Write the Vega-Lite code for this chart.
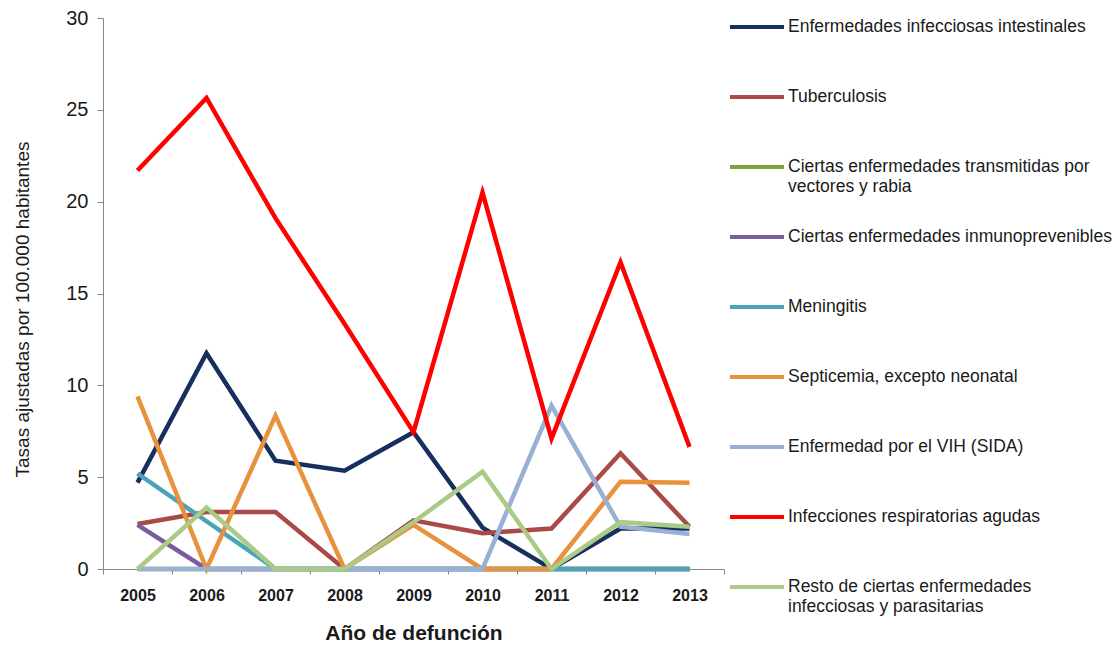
{
  "$schema": "https://vega.github.io/schema/vega-lite/v6.json",
  "width": 621,
  "height": 551,
  "autosize": "none",
  "padding": {"left": 103, "top": 18, "right": 393, "bottom": 77},
  "background": "white",
  "config": {"view": {"stroke": null}, "font": "Liberation Sans"},
  "data": {"values": [
    {"serie": "Enfermedades infecciosas intestinales", "anio": "2005", "tasa": 4.7},
    {"serie": "Enfermedades infecciosas intestinales", "anio": "2006", "tasa": 11.75},
    {"serie": "Enfermedades infecciosas intestinales", "anio": "2007", "tasa": 5.9},
    {"serie": "Enfermedades infecciosas intestinales", "anio": "2008", "tasa": 5.35},
    {"serie": "Enfermedades infecciosas intestinales", "anio": "2009", "tasa": 7.45},
    {"serie": "Enfermedades infecciosas intestinales", "anio": "2010", "tasa": 2.25},
    {"serie": "Enfermedades infecciosas intestinales", "anio": "2011", "tasa": 0},
    {"serie": "Enfermedades infecciosas intestinales", "anio": "2012", "tasa": 2.2},
    {"serie": "Enfermedades infecciosas intestinales", "anio": "2013", "tasa": 2.2},
    {"serie": "Tuberculosis", "anio": "2005", "tasa": 2.45},
    {"serie": "Tuberculosis", "anio": "2006", "tasa": 3.1},
    {"serie": "Tuberculosis", "anio": "2007", "tasa": 3.1},
    {"serie": "Tuberculosis", "anio": "2008", "tasa": 0},
    {"serie": "Tuberculosis", "anio": "2009", "tasa": 2.65},
    {"serie": "Tuberculosis", "anio": "2010", "tasa": 1.95},
    {"serie": "Tuberculosis", "anio": "2011", "tasa": 2.2},
    {"serie": "Tuberculosis", "anio": "2012", "tasa": 6.3},
    {"serie": "Tuberculosis", "anio": "2013", "tasa": 2.3},
    {"serie": "Ciertas enfermedades transmitidas por vectores y rabia", "anio": "2005", "tasa": 0},
    {"serie": "Ciertas enfermedades transmitidas por vectores y rabia", "anio": "2006", "tasa": 0},
    {"serie": "Ciertas enfermedades transmitidas por vectores y rabia", "anio": "2007", "tasa": 0},
    {"serie": "Ciertas enfermedades transmitidas por vectores y rabia", "anio": "2008", "tasa": 0},
    {"serie": "Ciertas enfermedades transmitidas por vectores y rabia", "anio": "2009", "tasa": 0},
    {"serie": "Ciertas enfermedades transmitidas por vectores y rabia", "anio": "2010", "tasa": 0},
    {"serie": "Ciertas enfermedades transmitidas por vectores y rabia", "anio": "2011", "tasa": 0},
    {"serie": "Ciertas enfermedades transmitidas por vectores y rabia", "anio": "2012", "tasa": 0},
    {"serie": "Ciertas enfermedades transmitidas por vectores y rabia", "anio": "2013", "tasa": 0},
    {"serie": "Ciertas enfermedades inmunoprevenibles", "anio": "2005", "tasa": 2.4},
    {"serie": "Ciertas enfermedades inmunoprevenibles", "anio": "2006", "tasa": 0},
    {"serie": "Ciertas enfermedades inmunoprevenibles", "anio": "2007", "tasa": 0},
    {"serie": "Ciertas enfermedades inmunoprevenibles", "anio": "2008", "tasa": 0},
    {"serie": "Ciertas enfermedades inmunoprevenibles", "anio": "2009", "tasa": 0},
    {"serie": "Ciertas enfermedades inmunoprevenibles", "anio": "2010", "tasa": 0},
    {"serie": "Ciertas enfermedades inmunoprevenibles", "anio": "2011", "tasa": 0},
    {"serie": "Ciertas enfermedades inmunoprevenibles", "anio": "2012", "tasa": 0},
    {"serie": "Ciertas enfermedades inmunoprevenibles", "anio": "2013", "tasa": 0},
    {"serie": "Meningitis", "anio": "2005", "tasa": 5.2},
    {"serie": "Meningitis", "anio": "2006", "tasa": 2.6},
    {"serie": "Meningitis", "anio": "2007", "tasa": 0},
    {"serie": "Meningitis", "anio": "2008", "tasa": 0},
    {"serie": "Meningitis", "anio": "2009", "tasa": 0},
    {"serie": "Meningitis", "anio": "2010", "tasa": 0},
    {"serie": "Meningitis", "anio": "2011", "tasa": 0},
    {"serie": "Meningitis", "anio": "2012", "tasa": 0},
    {"serie": "Meningitis", "anio": "2013", "tasa": 0},
    {"serie": "Septicemia, excepto neonatal", "anio": "2005", "tasa": 9.4},
    {"serie": "Septicemia, excepto neonatal", "anio": "2006", "tasa": 0},
    {"serie": "Septicemia, excepto neonatal", "anio": "2007", "tasa": 8.35},
    {"serie": "Septicemia, excepto neonatal", "anio": "2008", "tasa": 0},
    {"serie": "Septicemia, excepto neonatal", "anio": "2009", "tasa": 2.4},
    {"serie": "Septicemia, excepto neonatal", "anio": "2010", "tasa": 0},
    {"serie": "Septicemia, excepto neonatal", "anio": "2011", "tasa": 0},
    {"serie": "Septicemia, excepto neonatal", "anio": "2012", "tasa": 4.75},
    {"serie": "Septicemia, excepto neonatal", "anio": "2013", "tasa": 4.7},
    {"serie": "Enfermedad por el VIH (SIDA)", "anio": "2005", "tasa": 0},
    {"serie": "Enfermedad por el VIH (SIDA)", "anio": "2006", "tasa": 0},
    {"serie": "Enfermedad por el VIH (SIDA)", "anio": "2007", "tasa": 0},
    {"serie": "Enfermedad por el VIH (SIDA)", "anio": "2008", "tasa": 0},
    {"serie": "Enfermedad por el VIH (SIDA)", "anio": "2009", "tasa": 0},
    {"serie": "Enfermedad por el VIH (SIDA)", "anio": "2010", "tasa": 0},
    {"serie": "Enfermedad por el VIH (SIDA)", "anio": "2011", "tasa": 8.9},
    {"serie": "Enfermedad por el VIH (SIDA)", "anio": "2012", "tasa": 2.3},
    {"serie": "Enfermedad por el VIH (SIDA)", "anio": "2013", "tasa": 1.9},
    {"serie": "Infecciones respiratorias agudas", "anio": "2005", "tasa": 21.7},
    {"serie": "Infecciones respiratorias agudas", "anio": "2006", "tasa": 25.65},
    {"serie": "Infecciones respiratorias agudas", "anio": "2007", "tasa": 19.1},
    {"serie": "Infecciones respiratorias agudas", "anio": "2008", "tasa": 13.35},
    {"serie": "Infecciones respiratorias agudas", "anio": "2009", "tasa": 7.45},
    {"serie": "Infecciones respiratorias agudas", "anio": "2010", "tasa": 20.5},
    {"serie": "Infecciones respiratorias agudas", "anio": "2011", "tasa": 7.1},
    {"serie": "Infecciones respiratorias agudas", "anio": "2012", "tasa": 16.7},
    {"serie": "Infecciones respiratorias agudas", "anio": "2013", "tasa": 6.65},
    {"serie": "Resto de ciertas enfermedades infecciosas y parasitarias", "anio": "2005", "tasa": 0},
    {"serie": "Resto de ciertas enfermedades infecciosas y parasitarias", "anio": "2006", "tasa": 3.35},
    {"serie": "Resto de ciertas enfermedades infecciosas y parasitarias", "anio": "2007", "tasa": 0},
    {"serie": "Resto de ciertas enfermedades infecciosas y parasitarias", "anio": "2008", "tasa": 0},
    {"serie": "Resto de ciertas enfermedades infecciosas y parasitarias", "anio": "2009", "tasa": 2.55},
    {"serie": "Resto de ciertas enfermedades infecciosas y parasitarias", "anio": "2010", "tasa": 5.3},
    {"serie": "Resto de ciertas enfermedades infecciosas y parasitarias", "anio": "2011", "tasa": 0},
    {"serie": "Resto de ciertas enfermedades infecciosas y parasitarias", "anio": "2012", "tasa": 2.55},
    {"serie": "Resto de ciertas enfermedades infecciosas y parasitarias", "anio": "2013", "tasa": 2.3}
  ]},
  "mark": {"type": "line", "strokeWidth": 4.5, "strokeJoin": "miter", "strokeCap": "butt"},
  "encoding": {
    "x": {
      "field": "anio", "type": "ordinal", "bandPosition": 0.5,
      "scale": {"type": "band", "paddingInner": 0, "paddingOuter": 0},
      "axis": {
        "title": "Año de defunción", "labelAngle": 0, "tickBand": "extent",
        "labelFont": "Liberation Sans", "labelFontWeight": "bold", "labelFontSize": 16, "labelColor": "#1a1a1a",
        "labelPadding": 13, "tickSize": 5, "tickColor": "#868686", "domainColor": "#868686",
        "titleFont": "Liberation Sans", "titleFontWeight": "bold", "titleFontSize": 21, "titleColor": "#1a1a1a",
        "titleBaseline": "top", "titleY": 53, "grid": false
      }
    },
    "y": {
      "field": "tasa", "type": "quantitative",
      "scale": {"domain": [0, 30], "nice": false},
      "axis": {
        "title": "Tasas ajustadas por 100.000 habitantes", "values": [0, 5, 10, 15, 20, 25, 30],
        "labelFont": "Liberation Sans", "labelFontSize": 20, "labelColor": "#1a1a1a", "labelPadding": 9,
        "tickSize": 6, "tickColor": "#868686", "domainColor": "#868686", "grid": false,
        "titleFont": "Liberation Sans", "titleFontSize": 19, "titleFontWeight": "normal", "titleColor": "#1a1a1a",
        "titleAngle": -90, "titleX": -81, "titleY": 291, "titleAlign": "center", "titleBaseline": "middle"
      }
    },
    "color": {
      "field": "serie", "type": "nominal",
      "scale": {
        "domain": [
          "Enfermedades infecciosas intestinales",
          "Tuberculosis",
          "Ciertas enfermedades transmitidas por vectores y rabia",
          "Ciertas enfermedades inmunoprevenibles",
          "Meningitis",
          "Septicemia, excepto neonatal",
          "Enfermedad por el VIH (SIDA)",
          "Infecciones respiratorias agudas",
          "Resto de ciertas enfermedades infecciosas y parasitarias"
        ],
        "range": ["#172F5F", "#A94A47", "#7BA43F", "#7B5C9E", "#4AA3B8", "#E8923E", "#98AFD6", "#FF0000", "#AACB86"]
      },
      "legend": {
        "title": null, "orient": "none", "legendX": 625, "legendY": -20, "padding": 0,
        "symbolType": "stroke", "symbolSize": 2916, "symbolStrokeWidth": 4,
        "labelFont": "Liberation Sans", "labelFontSize": 17.5, "labelColor": "#1a1a1a", "labelLimit": 400,
        "labelOffset": 2, "rowPadding": 13, "gridAlign": "all", "labelBaseline": "middle", "labelLineHeight": 23,
        "labelExpr": "datum.label == 'Ciertas enfermedades transmitidas por vectores y rabia' ? ['Ciertas enfermedades transmitidas por', 'vectores y rabia'] : datum.label == 'Resto de ciertas enfermedades infecciosas y parasitarias' ? ['Resto de ciertas enfermedades', 'infecciosas y parasitarias'] : datum.label"
      }
    }
  }
}
